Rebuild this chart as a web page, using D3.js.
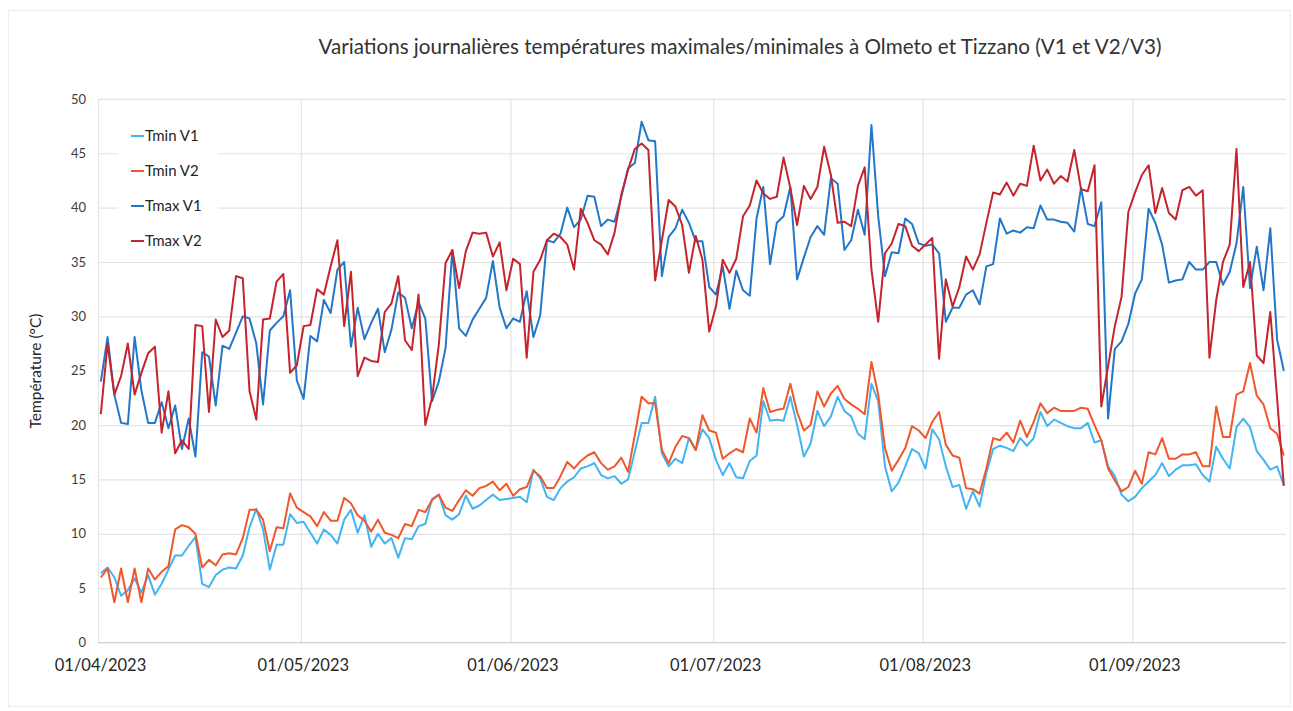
<!DOCTYPE html>
<html><head><meta charset="utf-8">
<script src="https://cdn.jsdelivr.net/npm/d3@7/dist/d3.min.js"></script>
<style>
html,body{margin:0;padding:0;background:#fff;}
svg{display:block;font-family:Lato,"Liberation Sans",sans-serif;}
</style></head>
<body><svg id="chart" width="1293" height="711"></svg>
<script>
const startDate = new Date(2023, 3, 1);
const endDate = new Date(2023, 8, 24);
const monthTicks = [new Date(2023,3,1), new Date(2023,4,1), new Date(2023,5,1), new Date(2023,6,1), new Date(2023,7,1), new Date(2023,8,1)];
const yTicks = [0,5,10,15,20,25,30,35,40,45,50];
const title = "Variations journalières températures maximales/minimales à Olmeto et Tizzano (V1 et V2/V3)";
const yLabel = "Température (°C)";
const seriesNames = ["Tmin V1", "Tmin V2", "Tmax V1", "Tmax V2"];

const tminV1 = [6.4,6.9,6.0,4.3,4.8,5.9,4.6,6.2,4.4,5.4, 6.7,8.0,8.0,8.9,9.7,5.4,5.1,6.2,6.7,6.9,
 6.8,8.0,10.6,12.3,10.4,6.7,9.0,9.0,11.8,11.0, 11.1,10.1,9.1,10.4,9.9,9.1,11.3,12.2,10.1,11.7,
 8.8,10.0,9.1,9.6,7.8,9.6,9.5,10.7,10.9,13.2, 13.6,11.7,11.3,11.8,13.5,12.3,12.6,13.1,13.6,13.1,
 13.2,13.3,13.4,12.9,15.9,15.1,13.4,13.1,14.2,14.8, 15.2,16.0,16.2,16.5,15.4,15.1,15.3,14.6,15.0,17.6,
 20.2,20.2,22.6,17.4,16.2,16.9,16.5,18.8,17.7,19.6, 18.8,16.8,15.4,16.5,15.2,15.1,16.7,17.2,22.2,20.4,
 20.5,20.4,22.6,20.0,17.1,18.3,21.3,19.9,20.8,22.6, 21.3,20.8,19.2,18.7,23.8,22.2,16.2,13.9,14.7,16.2,
 17.8,17.4,16.0,19.6,18.7,16.2,14.3,14.5,12.3,13.9, 12.5,15.6,17.8,18.1,17.9,17.6,18.8,18.1,18.8,21.2,
 19.9,20.5,20.2,19.9,19.7,19.7,20.2,18.4,18.6,16.2, 15.3,13.6,13.0,13.4,14.2,14.8,15.4,16.5,15.3,15.9,
 16.3,16.3,16.4,15.4,14.8,18.0,16.9,16.0,19.8,20.6, 19.8,17.6,16.8,15.9,16.2,14.5];

const tminV2 = [6.0,6.8,3.7,6.8,3.7,6.8,3.7,6.8,5.8,6.5, 7.0,10.4,10.8,10.6,10.0,6.9,7.6,7.1,8.1,8.2,
 8.1,9.6,12.2,12.2,11.3,8.4,10.6,10.5,13.7,12.4, 12.0,11.6,10.7,12.0,11.2,11.2,13.3,12.8,11.7,11.2,
 10.2,11.3,10.1,9.9,9.6,10.9,10.7,12.2,12.0,13.1, 13.6,12.4,12.1,13.1,14.0,13.5,14.2,14.4,14.8,14.0,
 14.6,13.5,14.1,14.3,15.8,15.3,14.2,14.2,15.3,16.6, 16.0,16.7,17.2,17.5,16.5,15.9,16.2,17.0,15.7,19.1,
 22.6,22.0,22.0,17.7,16.5,18.0,19.0,18.8,17.7,20.9, 19.5,19.3,16.9,17.4,17.8,17.5,20.6,19.3,23.4,21.2,
 21.4,21.5,23.8,21.2,19.5,20.0,23.1,21.7,22.9,23.6, 22.4,21.9,21.5,21.0,25.8,22.8,17.9,15.8,16.8,17.9,
 19.9,19.5,18.8,20.3,21.2,18.2,17.2,17.0,14.2,14.1, 13.7,16.0,18.8,18.6,19.3,18.4,20.4,18.9,20.3,22.0,
 21.1,21.6,21.3,21.3,21.3,21.6,21.5,20.0,18.6,16.0, 14.9,13.9,14.3,15.8,14.6,17.5,17.3,18.8,16.9,16.9,
 17.3,17.3,17.5,16.2,16.2,21.7,18.9,18.9,22.8,23.1, 25.7,22.7,21.9,19.7,19.2,17.2];

const tmaxV1 = [24.0,28.1,22.8,20.2,20.1,28.1,23.2,20.2,20.2,22.1, 19.7,21.8,17.8,20.6,17.1,26.7,26.3,21.8,27.3,27.0,
 28.5,30.0,29.8,27.5,21.9,28.7,29.4,30.0,32.4,24.1, 22.4,28.2,27.7,31.5,30.3,34.3,35.0,27.2,30.8,27.9,
 29.4,30.7,26.7,28.8,32.2,31.7,28.9,31.3,29.8,22.2, 24.0,27.1,36.1,28.9,28.2,29.7,30.7,31.7,35.1,30.8,
 28.9,29.8,29.5,32.3,28.1,30.1,37.0,36.8,37.6,40.0, 38.2,38.9,41.1,41.0,38.3,38.9,38.7,41.0,43.6,44.1,
 47.9,46.2,46.1,33.7,37.3,38.1,39.8,38.6,36.9,36.9, 32.7,32.0,34.6,30.7,34.2,32.4,31.9,39.0,41.9,34.8,
 38.6,39.2,41.9,33.4,35.4,37.3,38.3,37.5,42.7,42.2, 36.1,37.0,39.8,37.5,47.6,39.2,33.7,35.9,35.8,39.0,
 38.5,36.7,36.5,36.6,35.8,29.5,30.8,30.8,32.0,32.4, 31.1,34.6,34.8,39.0,37.6,37.9,37.7,38.2,38.1,40.2,
 38.9,38.9,38.7,38.6,37.8,41.8,38.5,38.3,40.5,20.6, 27.0,27.7,29.3,32.1,33.4,39.9,38.6,36.6,33.1,33.3,
 33.4,35.0,34.3,34.3,35.0,35.0,32.9,34.1,36.7,41.9, 32.6,36.4,32.4,38.1,27.9,25.0];

const tmaxV2 = [21.0,27.5,22.8,24.5,27.5,22.8,24.8,26.6,27.2,19.3, 23.1,17.4,18.6,17.8,29.2,29.1,21.2,29.7,28.1,28.7,
 33.7,33.5,23.1,20.5,29.7,29.8,33.2,33.9,24.8,25.5, 29.1,29.2,32.5,32.0,34.6,37.0,29.1,34.1,24.5,26.2,
 25.9,25.8,30.4,31.2,33.7,27.8,26.9,32.0,20.0,22.5, 27.4,34.9,36.1,32.6,36.0,37.7,37.6,37.7,35.5,36.8,
 32.4,35.3,34.8,26.2,34.1,35.2,37.0,37.6,37.3,36.6, 34.3,39.9,38.6,37.0,36.6,35.7,37.7,41.2,43.5,45.4,
 45.9,45.3,33.3,37.0,40.7,40.1,38.4,34.0,37.4,35.2, 28.6,30.9,35.2,34.0,35.3,39.2,40.2,42.5,41.3,40.8,
 41.0,44.6,41.8,38.4,42.0,40.8,41.9,45.6,43.0,38.6, 38.7,38.3,42.0,43.7,34.3,29.5,35.8,36.7,38.5,38.3,
 36.5,36.0,36.6,37.2,26.1,33.4,30.9,32.7,35.5,34.3, 35.7,38.6,41.4,41.2,42.3,41.1,42.2,42.0,45.7,42.5,
 43.5,42.2,42.9,42.4,45.3,41.7,41.5,43.9,21.7,25.4, 29.1,31.8,39.6,41.4,43.0,43.9,39.5,41.8,39.5,38.9,
 41.6,41.9,41.1,41.6,26.2,31.5,35.0,36.6,45.4,32.7, 35.0,26.4,25.7,30.4,22.5,14.4];

const colors = ["#43b4f2", "#f0572b", "#2277c8", "#c4242b"];
const seriesValues = [tminV1, tminV2, tmaxV1, tmaxV2];
const dates = tminV1.map((_, i) => new Date(2023, 3, 1 + i, 10));

const svg = d3.select("#chart");
const x = d3.scaleTime().domain([startDate, endDate]).range([98, 98 + 176 * 6.76]);
const y = d3.scaleLinear().domain([0, 50]).range([642.5, 98.9]);

// outer faint border
svg.append("rect").attr("x", 8.5).attr("y", 10.5).attr("width", 1282).attr("height", 696)
  .attr("fill", "none").attr("stroke", "#ececec").attr("stroke-width", 1);

// horizontal gridlines
svg.append("g").attr("transform", "translate(98,0)")
  .call(d3.axisLeft(y).tickValues(yTicks).tickSize(-(x.range()[1] - 98 - 2)).tickFormat(""))
  .call(g => g.select(".domain").remove())
  .call(g => g.selectAll("line").attr("stroke", "#e3e3e3").attr("stroke-width", 1.2));

// vertical gridlines
svg.append("g").attr("transform", "translate(0,98.9)")
  .call(d3.axisBottom(x).tickValues(monthTicks).tickSize(642.5 - 98.9).tickFormat(""))
  .call(g => g.select(".domain").remove())
  .call(g => g.selectAll("line").attr("stroke", "#e3e3e3").attr("stroke-width", 1.2));

// bottom axis line
svg.append("line").attr("x1", 98).attr("x2", x.range()[1] - 2).attr("y1", y(0)).attr("y2", y(0))
  .attr("stroke", "#d0d0d0").attr("stroke-width", 1.2);

// y tick labels
svg.append("g").attr("transform", "translate(98,0)")
  .call(d3.axisLeft(y).tickValues(yTicks).tickSize(0).tickPadding(12))
  .call(g => g.select(".domain").remove())
  .call(g => g.selectAll("text").attr("font-size", 13).attr("fill", "#404040").attr("font-family", "Lato, sans-serif"));

// x tick labels
svg.append("g").attr("transform", "translate(0," + y(0) + ")")
  .call(d3.axisBottom(x).tickValues(monthTicks).tickSize(0).tickPadding(17).tickFormat(d3.timeFormat("%d/%m/%Y")))
  .call(g => g.select(".domain").remove())
  .call(g => g.selectAll("text").attr("font-size", 16.5).attr("fill", "#262626").attr("dx", 2).attr("font-family", "Lato, sans-serif"));

// lines
const line = d3.line().x((d, i) => x(dates[i])).y(d => y(d));
seriesValues.forEach((vals, k) => {
  svg.append("path").datum(vals).attr("d", line)
    .attr("fill", "none").attr("stroke", colors[k]).attr("stroke-width", 2)
    .attr("stroke-linejoin", "round");
});

// legend
const lg = svg.append("g");
lg.append("rect").attr("x", 118).attr("y", 118).attr("width", 100).attr("height", 140).attr("fill", "#fff");
seriesNames.forEach((n, k) => {
  const yy = 136 + k * 35;
  lg.append("line").attr("x1", 131).attr("x2", 144).attr("y1", yy).attr("y2", yy)
    .attr("stroke", colors[k]).attr("stroke-width", 2);
  lg.append("text").attr("x", 145).attr("y", yy + 5).attr("font-size", 15)
    .attr("fill", "#262626").text(n);
});

// title
const t = svg.append("text").attr("x", 740).attr("y", 54).attr("text-anchor", "middle")
  .attr("font-size", 18).attr("fill", "#333").text(title);
const w = t.node().getComputedTextLength();
t.attr("font-size", 18 * 844 / w);

// y label
svg.append("text").attr("transform", "translate(41,371) rotate(-90)").attr("text-anchor", "middle")
  .attr("font-size", 15.5).attr("fill", "#262626").text(yLabel);
</script></body></html>
